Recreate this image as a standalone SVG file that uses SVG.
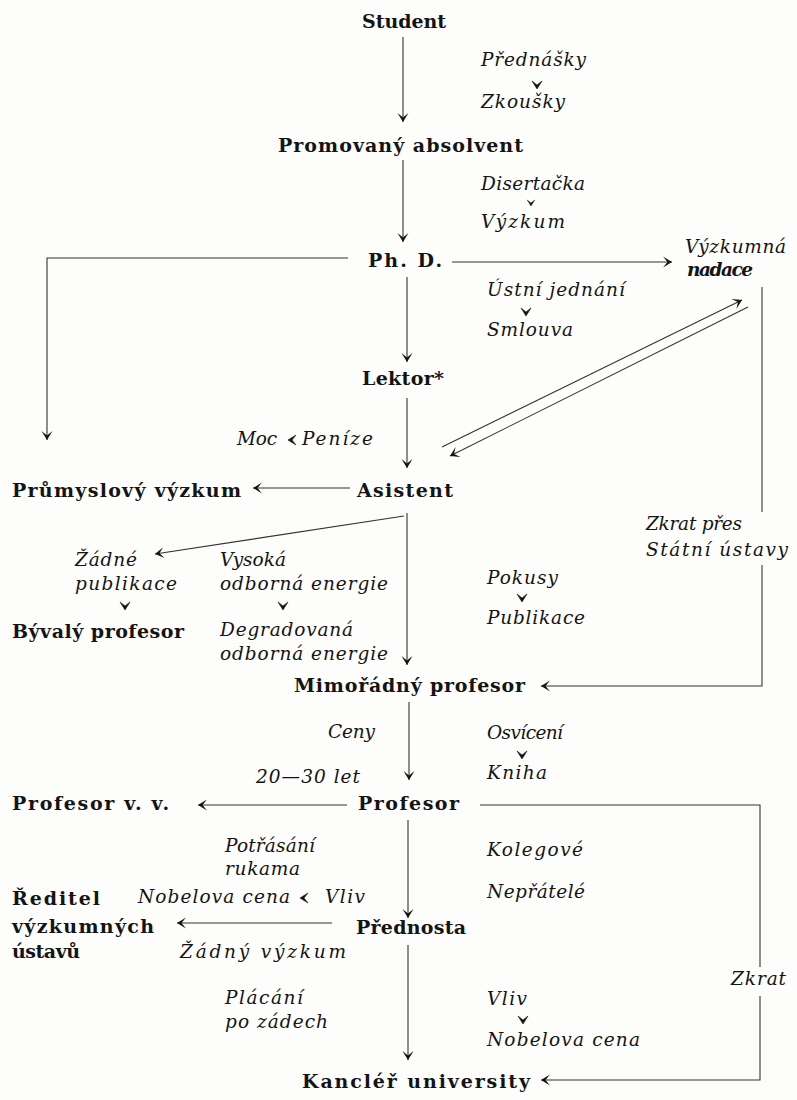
<svg xmlns="http://www.w3.org/2000/svg" xmlns:xlink="http://www.w3.org/1999/xlink" width="797" height="1100" viewBox="0 0 797 1100">
<style>
  .bg{fill:#fdfdfb}
  .n{font-family:"DejaVu Serif","Liberation Serif",serif;font-weight:bold;font-size:19px;fill:#141414}
  .l{font-family:"DejaVu Serif","Liberation Serif",serif;font-style:italic;font-size:18.5px;fill:#141414}
  .bi{font-family:"DejaVu Serif","Liberation Serif",serif;font-style:italic;font-weight:bold;font-size:18.5px;fill:#141414}
  .c{fill:none;stroke:#333;stroke-width:1.1}
  .ah{fill:#141414;stroke:#141414;stroke-width:0.6;stroke-linejoin:round}
</style>
<defs>
  <marker id="ah" viewBox="-11 -7 12 14" refX="0" refY="0" markerWidth="12" markerHeight="14" orient="auto" markerUnits="userSpaceOnUse">
    <path d="M0,0 L-9,-5.5 L-4.5,0 L-9,5.5 Z" fill="#141414"/>
  </marker>
  <path id="sa" d="M0,0 L-5,-8 L0,-4 L5,-8 Z"/>
</defs>
<rect class="bg" x="0" y="0" width="797" height="1100"/>

<g id="connectors">
  <path class="c" d="M403,37 V122" marker-end="url(#ah)"/>
  <path class="c" d="M403,160 V242" marker-end="url(#ah)"/>
  <path class="c" d="M348,258 H47 V440" marker-end="url(#ah)"/>
  <path class="c" d="M452,262 H672" marker-end="url(#ah)"/>
  <path class="c" d="M407,277 V362" marker-end="url(#ah)"/>
  <path class="c" d="M407,398 V468" marker-end="url(#ah)"/>
  <path class="c" d="M442,447 L742,300" marker-end="url(#ah)"/>
  <path class="c" d="M748,307 L450,456" marker-end="url(#ah)"/>
  <path class="c" d="M350,488 H253" marker-end="url(#ah)"/>
  <path class="c" d="M762,287 V512"/>
  <path class="c" d="M762,565 V686 H541" marker-end="url(#ah)"/>
  <path class="c" d="M407,513 V665" marker-end="url(#ah)"/>
  <path class="c" d="M404,516 L155,554" marker-end="url(#ah)"/>
  <path class="c" d="M409,702 V780" marker-end="url(#ah)"/>
  <path class="c" d="M347,805 H198" marker-end="url(#ah)"/>
  <path class="c" d="M480,805 H760 V967"/>
  <path class="c" d="M760,996 V1080 H541" marker-end="url(#ah)"/>
  <path class="c" d="M408,820 V918" marker-end="url(#ah)"/>
  <path class="c" d="M332,923 H177" marker-end="url(#ah)" stroke-width="1.6"/>
  <path class="c" d="M408,945 V1060" marker-end="url(#ah)"/>
</g>

<g id="node-student"><text class="n" x="362" y="28" textLength="84">Student</text></g>
<g id="node-absolvent"><text class="n" x="278" y="152" textLength="245">Promovaný absolvent</text></g>
<g id="node-phd"><text class="n" x="368" y="267" textLength="74">Ph. D.</text></g>
<g id="node-nadace"><text class="l" x="685" y="253" textLength="101">Výzkumná</text><text class="bi" x="687" y="276" textLength="66">nadace</text></g>
<g id="node-lektor"><text class="n" x="362" y="385" textLength="82">Lektor*</text></g>
<g id="node-asistent"><text class="n" x="357" y="497" textLength="96">Asistent</text></g>
<g id="node-prumysl"><text class="n" x="12" y="497" textLength="229">Průmyslový výzkum</text></g>
<g id="node-byvaly"><text class="n" x="12" y="638" textLength="172">Bývalý profesor</text></g>
<g id="node-mimoradny"><text class="n" x="294" y="692" textLength="231">Mimořádný profesor</text></g>
<g id="node-profesor"><text class="n" x="358" y="810" textLength="101">Profesor</text></g>
<g id="node-profvv"><text class="n" x="12" y="810" textLength="157">Profesor v. v.</text></g>
<g id="node-reditel"><text class="n" x="12" y="905" textLength="88">Ředitel</text><text class="n" x="12" y="933" textLength="142">výzkumných</text><text class="n" x="12" y="958" textLength="68">ústavů</text></g>
<g id="node-prednosta"><text class="n" x="356" y="934" textLength="110">Přednosta</text></g>
<g id="node-kancler"><text class="n" x="302" y="1088" textLength="228">Kancléř university</text></g>

<g id="labels">
  <text class="l" x="481" y="66" textLength="105">Přednášky</text>
  <use xlink:href="#sa" class="ah" x="537" y="89"/>
  <text class="l" x="481" y="108" textLength="84">Zkoušky</text>

  <text class="l" x="481" y="190" textLength="104">Disertačka</text>
  <use xlink:href="#sa" class="ah" x="531" y="206" transform="translate(531,206) scale(0.75) translate(-531,-206)"/>
  <text class="l" x="481" y="228" textLength="84">Výzkum</text>

  <text class="l" x="487" y="296" textLength="138">Ústní jednání</text>
  <use xlink:href="#sa" class="ah" x="526" y="316"/>
  <text class="l" x="487" y="336" textLength="86">Smlouva</text>

  <text class="l" x="237" y="445" textLength="40">Moc</text>
  <use xlink:href="#sa" class="ah" transform="translate(288,440) rotate(90)"/>
  <text class="l" x="302" y="445" textLength="71">Peníze</text>

  <text class="l" x="646" y="530" textLength="96">Zkrat přes</text>
  <text class="l" x="646" y="556" textLength="142">Státní ústavy</text>

  <text class="l" x="75" y="566" textLength="62">Žádné</text>
  <text class="l" x="75" y="590" textLength="102">publikace</text>
  <use xlink:href="#sa" class="ah" x="125" y="610"/>

  <text class="l" x="220" y="566" textLength="66">Vysoká</text>
  <text class="l" x="220" y="590" textLength="168">odborná energie</text>
  <use xlink:href="#sa" class="ah" x="283" y="610"/>
  <text class="l" x="220" y="636" textLength="133">Degradovaná</text>
  <text class="l" x="220" y="660" textLength="168">odborná energie</text>

  <text class="l" x="487" y="584" textLength="71">Pokusy</text>
  <use xlink:href="#sa" class="ah" x="522" y="602"/>
  <text class="l" x="487" y="624" textLength="98">Publikace</text>

  <text class="l" x="328" y="738" textLength="47">Ceny</text>
  <text class="l" x="256" y="783" textLength="104">20—30 let</text>

  <text class="l" x="487" y="739" textLength="76">Osvícení</text>
  <use xlink:href="#sa" class="ah" x="522" y="759"/>
  <text class="l" x="487" y="779" textLength="60">Kniha</text>

  <text class="l" x="225" y="852" textLength="90">Potřásání</text>
  <text class="l" x="225" y="875" textLength="75">rukama</text>

  <text class="l" x="487" y="856" textLength="96">Kolegové</text>
  <text class="l" x="487" y="898" textLength="98">Nepřátelé</text>

  <text class="l" x="138" y="903" textLength="152">Nobelova cena</text>
  <use xlink:href="#sa" class="ah" transform="translate(300,898) rotate(90)"/>
  <text class="l" x="325" y="903" textLength="40">Vliv</text>

  <text class="l" x="180" y="958" textLength="166">Žádný výzkum</text>

  <text class="l" x="225" y="1004" textLength="78">Plácání</text>
  <text class="l" x="225" y="1028" textLength="103">po zádech</text>

  <text class="l" x="487" y="1005" textLength="40">Vliv</text>
  <use xlink:href="#sa" class="ah" x="523" y="1024"/>
  <text class="l" x="487" y="1046" textLength="153">Nobelova cena</text>

  <text class="l" x="731" y="985" textLength="55">Zkrat</text>
</g>
</svg>
